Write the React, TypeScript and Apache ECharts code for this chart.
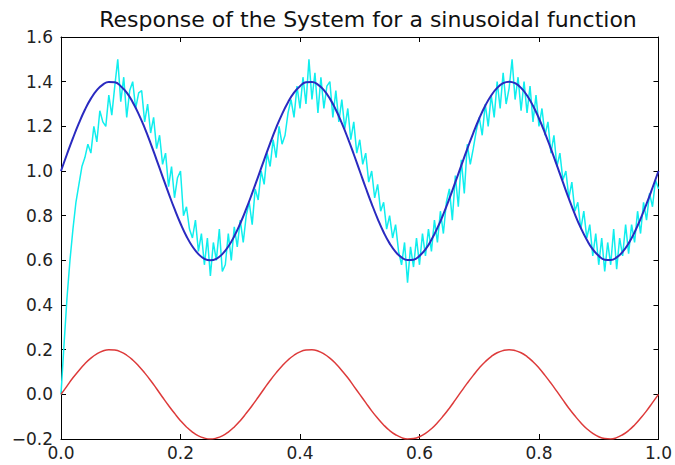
import React, { useEffect, useRef } from "react";
import * as echarts from "echarts";

const titleText = "Response of the System for a sinusoidal function";

// time grid for the smooth curves (step 0.01)
const tSmooth: number[] = Array.from({ length: 101 }, (_, i) => +(i * 0.01).toFixed(2));
// time grid for the noisy response (step 0.005)
const tNoisy: number[] = Array.from({ length: 201 }, (_, i) => +(i * 0.005).toFixed(3));

const blueValues: number[] = [
  1.000, 1.075, 1.147, 1.214, 1.274, 1.324, 1.362, 1.387, 1.399, 1.397,
  1.380, 1.351, 1.308, 1.255, 1.193, 1.124, 1.050, 0.975, 0.901, 0.830,
  0.765, 0.708, 0.662, 0.628, 0.607, 0.600, 0.607, 0.628, 0.662, 0.708,
  0.765, 0.830, 0.901, 0.975, 1.050, 1.124, 1.193, 1.255, 1.308, 1.351,
  1.380, 1.397, 1.399, 1.387, 1.362, 1.324, 1.274, 1.214, 1.147, 1.075,
  1.000, 0.925, 0.853, 0.786, 0.726, 0.676, 0.638, 0.613, 0.601, 0.603,
  0.620, 0.649, 0.692, 0.745, 0.807, 0.876, 0.950, 1.025, 1.099, 1.170,
  1.235, 1.292, 1.338, 1.372, 1.393, 1.400, 1.393, 1.372, 1.338, 1.292,
  1.235, 1.170, 1.099, 1.025, 0.950, 0.876, 0.807, 0.745, 0.692, 0.649,
  0.620, 0.603, 0.601, 0.613, 0.638, 0.676, 0.726, 0.786, 0.853, 0.925,
  1.000,
];

const redValues: number[] = [
  0.000, 0.037, 0.074, 0.107, 0.137, 0.162, 0.181, 0.194, 0.200, 0.198,
  0.190, 0.175, 0.154, 0.127, 0.096, 0.062, 0.025, -0.013, -0.050, -0.085,
  -0.118, -0.146, -0.169, -0.186, -0.196, -0.200, -0.196, -0.186, -0.169, -0.146,
  -0.118, -0.085, -0.050, -0.013, 0.025, 0.062, 0.096, 0.127, 0.154, 0.175,
  0.190, 0.198, 0.200, 0.194, 0.181, 0.162, 0.137, 0.107, 0.074, 0.037,
  0.000, -0.037, -0.074, -0.107, -0.137, -0.162, -0.181, -0.194, -0.200, -0.198,
  -0.190, -0.175, -0.154, -0.127, -0.096, -0.062, -0.025, 0.013, 0.050, 0.085,
  0.118, 0.146, 0.169, 0.186, 0.196, 0.200, 0.196, 0.186, 0.169, 0.146,
  0.118, 0.085, 0.050, 0.013, -0.025, -0.062, -0.096, -0.127, -0.154, -0.175,
  -0.190, -0.198, -0.200, -0.194, -0.181, -0.162, -0.137, -0.107, -0.074, -0.037,
  0.000,
];

const cyanValues: number[] = [
  0.00, 0.22, 0.43, 0.60, 0.74, 0.86, 0.94, 1.02, 1.06, 1.12,
  1.08, 1.20, 1.13, 1.27, 1.22, 1.20, 1.34, 1.25, 1.38, 1.50,
  1.31, 1.42, 1.24, 1.36, 1.40, 1.28, 1.35, 1.36, 1.22, 1.30,
  1.17, 1.24, 1.10, 1.16, 1.03, 1.08, 0.93, 1.02, 0.88, 0.97,
  1.00, 0.80, 0.84, 0.74, 0.70, 0.78, 0.64, 0.72, 0.58, 0.70,
  0.53, 0.68, 0.60, 0.74, 0.55, 0.58, 0.72, 0.60, 0.75, 0.66,
  0.78, 0.68, 0.80, 0.86, 0.76, 0.92, 0.87, 1.00, 0.94, 1.08,
  1.02, 1.14, 1.06, 1.20, 1.12, 1.16, 1.26, 1.32, 1.24, 1.38,
  1.28, 1.42, 1.30, 1.50, 1.32, 1.44, 1.26, 1.42, 1.28, 1.38,
  1.40, 1.24, 1.36, 1.22, 1.32, 1.19, 1.28, 1.14, 1.22, 1.08,
  1.14, 1.03, 1.08, 0.95, 1.00, 0.88, 0.94, 0.82, 0.86, 0.74,
  0.80, 0.70, 0.76, 0.64, 0.58, 0.68, 0.50, 0.66, 0.57, 0.70,
  0.58, 0.72, 0.62, 0.74, 0.64, 0.78, 0.68, 0.82, 0.72, 0.86,
  0.92, 0.78, 0.98, 0.84, 1.05, 0.90, 1.12, 1.03, 1.10, 1.18,
  1.24, 1.16, 1.30, 1.20, 1.34, 1.24, 1.40, 1.28, 1.44, 1.30,
  1.37, 1.50, 1.32, 1.42, 1.27, 1.40, 1.26, 1.38, 1.22, 1.34,
  1.20, 1.28, 1.16, 1.22, 1.08, 1.16, 1.02, 1.08, 0.96, 1.00,
  0.88, 0.95, 0.82, 0.86, 0.74, 0.82, 0.70, 0.76, 0.62, 0.72,
  0.58, 0.70, 0.55, 0.68, 0.58, 0.74, 0.56, 0.70, 0.62, 0.76,
  0.63, 0.76, 0.68, 0.82, 0.72, 0.86, 0.78, 0.90, 0.84, 0.96,
  0.92,
];

const FONT = "DejaVu Sans";

const fmt = (v: number) => {
  const s = (Math.abs(v) < 1e-9 ? 0 : v).toFixed(1);
  return s.replace("-", "\u2212");
};

export default function App() {
  const ref = useRef<HTMLDivElement>(null);
  useEffect(() => {
    if (!ref.current) return;
    const chart = echarts.init(ref.current, undefined, { renderer: "svg" });
    const axisLine = { show: true, onZero: false, lineStyle: { color: "#000", width: 1 } };
    const tick = { show: true, inside: true, length: 5, lineStyle: { color: "#000", width: 1 } };
    const label = { color: "#222", fontFamily: FONT, fontSize: 17 };
    chart.setOption({
      animation: false,
      backgroundColor: "#fff",
      title: {
        text: titleText,
        left: 363,
        textAlign: "center",
        top: 3,
        textStyle: { fontFamily: FONT, fontSize: 22, fontWeight: "normal", color: "#111" },
      },
      grid: { left: 61, right: 12, top: 37, bottom: 26, containLabel: false },
      xAxis: [
        {
          type: "value",
          min: 0,
          max: 1,
          interval: 0.2,
          axisLine,
          axisTick: tick,
          splitLine: { show: false },
          axisLabel: { ...label, margin: 5, formatter: fmt },
        },
        {
          type: "value",
          position: "top",
          min: 0,
          max: 1,
          interval: 0.2,
          axisLine,
          axisTick: tick,
          splitLine: { show: false },
          axisLabel: { show: false },
        },
      ],
      yAxis: [
        {
          type: "value",
          min: -0.2,
          max: 1.6,
          interval: 0.2,
          axisLine,
          axisTick: tick,
          splitLine: { show: false },
          axisLabel: { ...label, margin: 8, formatter: fmt },
        },
        {
          type: "value",
          position: "right",
          min: -0.2,
          max: 1.6,
          interval: 0.2,
          axisLine,
          axisTick: tick,
          splitLine: { show: false },
          axisLabel: { show: false },
        },
      ],
      series: [
        {
          type: "line",
          name: "response",
          data: tNoisy.map((t, i) => [t, cyanValues[i]]),
          showSymbol: false,
          lineStyle: { color: "#10eeee", width: 1.5 },
        },
        {
          type: "line",
          name: "reference",
          data: tSmooth.map((t, i) => [t, blueValues[i]]),
          showSymbol: false,
          smooth: true,
          lineStyle: { color: "#2a2ac0", width: 2 },
        },
        {
          type: "line",
          name: "input",
          data: tSmooth.map((t, i) => [t, redValues[i]]),
          showSymbol: false,
          smooth: true,
          lineStyle: { color: "#dd3a3a", width: 1.5 },
        },
      ],
    });
    return () => chart.dispose();
  }, []);
  return <div ref={ref} style={{ width: 675, height: 465, position: "absolute", left: 0, top: 0 }} />;
}
